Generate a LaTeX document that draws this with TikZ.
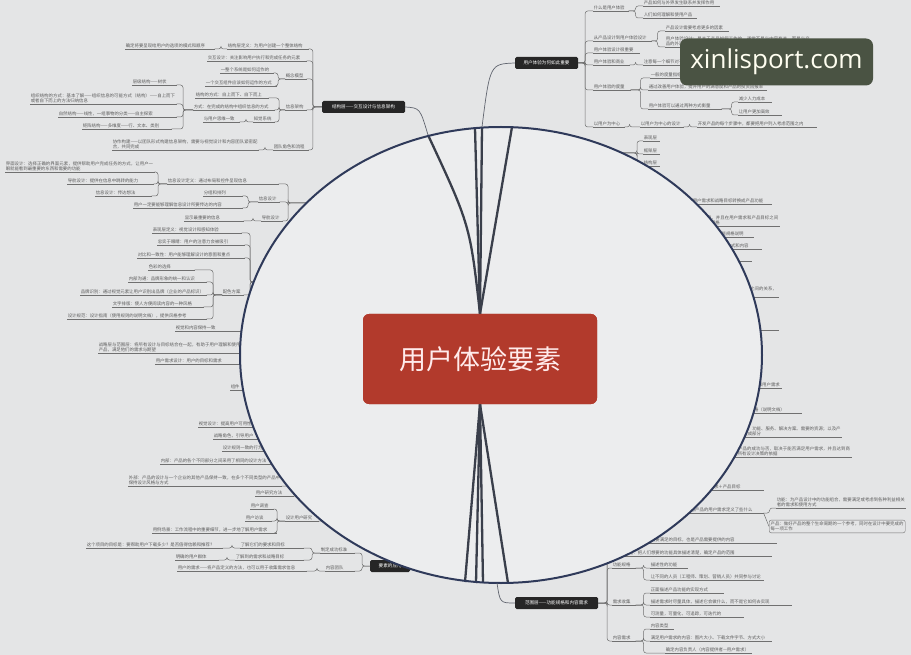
\documentclass[tikz,border=0pt]{standalone}
\usepackage{fontspec}
\setmainfont{Noto Sans CJK SC}
\newfontfamily\wmfont{Open Sans}
\XeTeXlinebreaklocale "zh"
\XeTeXlinebreakskip=0pt plus 1pt
\definecolor{bgout}{HTML}{E4E5E6}
\definecolor{bgin}{HTML}{ECEDEE}
\definecolor{txt}{HTML}{5C5C5C}
\definecolor{lin}{HTML}{707070}
\definecolor{ring}{HTML}{2F3A5A}
\definecolor{fan}{HTML}{3A3F4B}
\definecolor{corered}{HTML}{B23A2C}
\definecolor{wmgreen}{HTML}{4A5343}
\tikzset{
 tt/.style={font=\fontsize{4.4}{5.6}\selectfont, text=txt, inner sep=0.6pt, align=left},
 ul/.style={draw=lin, line width=0.5pt},
 conn/.style={draw=lin, line width=0.5pt, rounded corners=2.5pt},
 blk/.style={fill=black!85, text=white, font=\fontsize{4.6}{5.6}\selectfont, rounded corners=1.5pt, inner sep=1.5pt, minimum height=12pt},
 fanl/.style={draw=fan, line width=2.3pt},
 link/.style={draw=fan!80, line width=0.7pt},
}
\newcommand\tnd[5]{\node[tt,text width=#4pt,anchor=south west] (#1) at (#2,#3) {#5};\draw[ul] (#1.south west) -- (#1.south east);}
\newcommand\lcon[3]{\draw[conn] (#1.south east) -| ([xshift=-#3pt]#2) -- (#2);}
\newcommand\rcon[3]{\draw[conn] (#1) -- ([xshift=#3pt]#1) |- (#2.south west);}
\newcommand\hconr[2]{\draw[conn] (#1) |- (#2.south west);}
\newcommand\hconl[2]{\draw[conn] (#1) |- (#2.south east);}
\begin{document}
\begin{tikzpicture}[x=1pt,y=-1pt]
\useasboundingbox (0,0) rectangle (911,655);
\fill[bgout] (0,0) rectangle (911,655);

% ---------- structure layer (top left)
\node[blk,minimum width=83pt] (n1) at (363.5,107) {结构层——交互设计与信息架构};
\tnd{a1}{227}{49}{80}{结构层定义：为用户创建一个整体结构}
\tnd{a1a}{125}{49}{88}{确定将要呈现给用户的选项的模式和顺序}
\tnd{a2}{207}{61}{98}{交互设计：关注影响用户执行和完成任务的元素}
\tnd{a3}{285}{79}{20}{概念模型}
\tnd{a3a}{220}{73}{52}{一整个系统是如何运作的}
\tnd{a3b}{205}{86}{70}{一个交互组件应该如何运作的方式}
\tnd{a4}{285}{110}{20}{信息架构}
\tnd{a4a}{195}{98}{72}{结构的方式：自上而下、自下而上}
\tnd{a4b}{193}{110}{80}{方式：在完成的结构中组织信息的方式}
\tnd{a4c}{253}{122}{20}{知觉系统}
\tnd{a4d}{203}{122}{35}{与用户思维一致}
\tnd{b1}{132}{85}{43}{层级结构——树状}
\tnd{b2}{30}{104}{145}{组织结构的方式：基本了解——组织信息的可能方式（结构）——自上而下或者自下而上的方法归纳信息}
\tnd{b3}{58}{117}{117}{自然结构——线性，一组事物的分类——自主探索}
\tnd{b4}{82}{129}{88}{矩阵结构——多维度——行、文本、类别}
\tnd{a5}{273}{150}{34}{团队角色和流程}
\tnd{a5a}{112}{150}{145}{协作构建——以团队形式构建信息架构，需要与视觉设计和内容团队紧密配合，共同完成}
\lcon{a1}{n1.west}{9}
\lcon{a2}{n1.west}{9}
\lcon{a3}{n1.west}{9}
\lcon{a4}{n1.west}{9}
\lcon{a5}{n1.west}{9}
\lcon{a1a}{a1.south west}{6}
\lcon{a3a}{a3.south west}{7}
\lcon{a3b}{a3.south west}{7}
\lcon{a4a}{a4.south west}{6}
\lcon{a4b}{a4.south west}{6}
\lcon{a4c}{a4.south west}{6}
\lcon{a4d}{a4c.south west}{7}
\lcon{b1}{a4b.south west}{10}
\lcon{b2}{a4b.south west}{10}
\lcon{b3}{a4b.south west}{10}
\lcon{b4}{a4b.south west}{10}
\lcon{a5a}{a5.south west}{8}

% ---------- skeleton group
\coordinate (h2) at (335,203);
\tnd{c1}{167}{184}{110}{信息设计定义：通过布局和控件呈现信息}
\tnd{c1a}{5}{172}{148}{界面设计：选择正确的界面元素，提供帮助用户完成任务的方式，让用户一眼就能看到最重要的东西和需要的功能}
\tnd{c1b}{67}{184}{85}{导航设计：提供在信息中跳转的能力}
\tnd{c1c}{95}{196}{55}{信息设计：传达想法}
\tnd{c2}{258}{202}{20}{信息设计}
\tnd{c2a}{203}{196}{38}{分组和排列}
\tnd{c2b}{133}{208}{108}{用户一定要能够理解信息设计所要传达的内容}
\tnd{c3}{261}{221}{20}{导航设计}
\tnd{c3a}{184}{221}{58}{显示最重要的信息}
\lcon{c1a}{c1.south west}{9}
\lcon{c1b}{c1.south west}{9}
\lcon{c1c}{c1.south west}{9}
\lcon{c2a}{c2.south west}{10}
\lcon{c2b}{c2.south west}{10}
\lcon{c3a}{c3.south west}{8}
\lcon{c1}{h2}{47}
\lcon{c2}{h2}{47}
\lcon{c3}{h2}{47}

% ---------- surface group
\coordinate (h3) at (300,282);
\tnd{d1}{152}{233}{88}{表现层定义：视觉设计和感知体验}
\tnd{d2}{157}{245}{86}{忠实于眼睛：用户的注意力会被吸引}
\tnd{d3}{137}{258}{106}{对比和一致性：用户能够理解设计的意图和重点}
\tnd{d4}{222}{295}{20}{配色方案}
\tnd{d4a}{148}{270}{45}{色彩的选择}
\tnd{d4b}{128}{282}{77}{内部沟通：品牌形象的统一和认识}
\tnd{d4c}{80}{295}{125}{品牌识别：通过视觉元素让用户识别出品牌（企业的产品标识）}
\tnd{d4d}{112}{307}{90}{文字排版：使人方便阅读内容的一种风格}
\tnd{d4e}{67}{319}{138}{设计规范：设计指南（使用规则的说明文档），提供风格参考}
\tnd{d5}{175}{331}{65}{视觉和内容保持一致}
\lcon{d4a}{d4.south west}{9}
\lcon{d4b}{d4.south west}{9}
\lcon{d4c}{d4.south west}{9}
\lcon{d4d}{d4.south west}{9}
\lcon{d4e}{d4.south west}{9}
\lcon{d1}{h3}{50}
\lcon{d2}{h3}{50}
\lcon{d3}{h3}{50}
\lcon{d4}{h3}{50}
\lcon{d5}{h3}{50}

\coordinate (h4) at (300,365);
\tnd{e1}{98}{353}{142}{战略层与范围层：将所有设计与目标结合在一起，有助于用户理解和使用产品，满足他们的需求与期望}
\tnd{e2}{155}{364}{85}{用户需求设计：用户的目标和需求}
\tnd{e3}{230}{390}{20}{组件}
\lcon{e1}{h4}{50}
\lcon{e2}{h4}{50}
\lcon{e3}{h4}{50}

\coordinate (h5) at (340,455);
\tnd{f1}{198}{427}{55}{视觉设计：提高用户可用性}
\tnd{f2}{213}{439}{45}{战略角色，引导用户}
\tnd{f3}{222}{451}{45}{设计规则一致的行为}
\tnd{f4}{160}{464}{110}{内部：产品的各个不同部分之间采用了相同的设计方法}
\tnd{f5}{128}{486}{152}{外部：产品的设计与一个企业的其他产品保持一致，在多个不同类型的产品中保持设计风格与方式}
\lcon{f1}{h5}{40}
\lcon{f2}{h5}{40}
\lcon{f3}{h5}{40}
\lcon{f4}{h5}{40}
\lcon{f5}{h5}{40}

\coordinate (h6) at (345,510);
\tnd{g1}{255}{496}{37}{用户研究方法}
\tnd{g2}{250}{509}{22}{用户调查}
\tnd{g3}{245}{521}{25}{用户访谈}
\tnd{g4}{152}{533}{123}{用例场景：工作流程中的重要细节，进一步地了解用户需求}
\tnd{g0}{285}{521}{32}{设计用户研究}
\lcon{g2}{g0.south west}{8}
\lcon{g3}{g0.south west}{8}
\lcon{g4}{g0.south west}{8}
\lcon{g0}{h6}{15}
\lcon{g1}{h6}{15}

% ---------- bottom-left black node
\node[blk,minimum width=40pt,anchor=west] (n4) at (370,566) {要素的应用};
\tnd{k1}{320}{553}{33}{制定成功标准}
\tnd{k1a}{240}{548}{62}{了解它们的要求和目标}
\tnd{k1a1}{86}{548}{135}{这个项目的目标是：要帮助用户下载多少？是否值得信赖和推荐？}
\tnd{k1b}{235}{560}{67}{了解到的需求和战略目标}
\tnd{k1b1}{175}{560}{42}{明确的用户群体}
\tnd{k2}{325}{571}{28}{内容团队}
\tnd{k2a}{177}{571}{128}{用户的需求——将产品定义的方法，也可以用于收集需求信息}
\lcon{k1a}{k1.south west}{8}
\lcon{k1b}{k1.south west}{8}
\lcon{k1a1}{k1a.south west}{8}
\lcon{k1b1}{k1b.south west}{8}
\lcon{k2a}{k2.south west}{8}
\lcon{k1}{n4.west}{8}
\lcon{k2}{n4.west}{8}

% ---------- top black node
\node[blk,minimum width=63pt] (n2) at (546.5,63) {用户体验为何如此重要};
\tnd{m1}{593}{11}{34}{什么是用户体验}
\tnd{m1a}{643}{6}{75}{产品如何与外界发生联系并发挥作用}
\tnd{m1b}{643}{18}{52}{人们如何理解和使用产品}
\tnd{m2}{593}{41}{57}{从产品设计到用户体验设计}
\tnd{m2a}{665}{31}{62}{产品设计需要考虑更多的因素}
\tnd{m2b}{665}{47}{145}{用户体验设计：是关于产品如何工作的，通常不是与内容有关，而是与产品的外观和功能有关}
\tnd{m3}{593}{53}{45}{用户体验设计很重要}
\tnd{m4}{593}{65}{35}{用户体验和商业}
\tnd{m4a}{643}{65}{130}{注意每一个细节对于用户体验的影响，关系到用户是否会再次使用}
\tnd{m5}{593}{90}{36}{用户体验的度量}
\tnd{m5a}{650}{78}{100}{一般的度量指标：转化率、访问量、用户满意度}
\tnd{m5b}{648}{90}{117}{通过改善用户体验，提升用户的满意度和产品的投资回报率}
\tnd{m5c}{648}{109}{72}{用户体验可以通过两种方式衡量}
\tnd{m5d}{738}{102}{32}{减少人力成本}
\tnd{m5e}{738}{115}{42}{让用户更加高效}
\tnd{m6}{593}{127}{30}{以用户为中心}
\tnd{m6a}{640}{127}{42}{以用户为中心的设计}
\tnd{m6b}{697}{127}{118}{开发产品的每个步骤中，都要把用户列入考虑范围之内}
\rcon{n2.east}{m1}{7}
\rcon{n2.east}{m2}{7}
\rcon{n2.east}{m3}{7}
\rcon{n2.east}{m4}{7}
\rcon{n2.east}{m5}{7}
\rcon{n2.east}{m6}{7}
\rcon{m1.south east}{m1a}{7}
\rcon{m1.south east}{m1b}{7}
\rcon{m2.south east}{m2a}{6}
\rcon{m2.south east}{m2b}{6}
\rcon{m4.south east}{m4a}{6}
\rcon{m5.south east}{m5a}{10}
\rcon{m5.south east}{m5b}{10}
\rcon{m5.south east}{m5c}{10}
\rcon{m5c.south east}{m5d}{10}
\rcon{m5c.south east}{m5e}{10}
\rcon{m6.south east}{m6a}{5}
\rcon{m6a.south east}{m6b}{6}

% ---------- right side items
\coordinate (h7) at (600,153);
\tnd{r1}{643}{141}{15}{表现层}
\tnd{r2}{643}{154}{15}{框架层}
\tnd{r3}{643}{166}{15}{结构层}
\rcon{h7}{r1}{37}
\rcon{h7}{r2}{37}
\rcon{h7}{r3}{37}
\coordinate (h8) at (650,275);
\tnd{r4}{670}{204}{100}{将了解到的用户需求和战略目标转换成产品功能}
\tnd{r5}{675}{226}{103}{确定需求的优先级，并且在用户需求和产品目标之间找到平衡点，形成规格}
\tnd{r6}{690}{237}{62}{将需求转化为功能规格说明}
\tnd{r7}{695}{249}{65}{描述功能的实现方式和内容}
\tnd{r8}{700}{261}{50}{功能需求分析方法}
\tnd{r9}{700}{297}{77}{用户、功能、界面、需求之间的关系，确定项目范围}
\tnd{r10}{735}{330}{42}{战略层定义}
\hconr{h8}{r4}
\hconr{h8}{r5}
\hconr{h8}{r6}
\hconr{h8}{r7}
\hconr{h8}{r8}
\hconr{h8}{r9}
\hconr{h8}{r10}
\coordinate (h9) at (690,440);
\tnd{r12}{735}{388}{45}{产品的目标和用户需求}
\tnd{r13}{740}{413}{60}{功能规格（说明文档）}
\tnd{r14}{725}{437}{115}{用户：产品、功能、服务、解决方案、需要的资源；以及产品的各个组成部分}
\tnd{r15}{715}{457}{135}{战略目标：产品的成功与否，取决于能否满足用户需求，并且达到商业目标，是所有设计决策的依据}
\tnd{r16}{700}{490}{62}{用户需求＋产品目标}
\tnd{r17}{690}{513}{72}{为产品的用户需求定义了些什么}
\hconr{h9}{r12}
\hconr{h9}{r13}
\hconr{h9}{r14}
\hconr{h9}{r15}
\hconr{h9}{r16}
\hconr{h9}{r17}
\tnd{r17a}{776}{508}{128}{功能：为产品设计中的功能组合，需要满足或考虑到各种利益相关者的需求和使用方式}
\node[tt,draw=lin,rounded corners=2pt,inner sep=1.5pt,text width=133pt,anchor=south west] (r17b) at (769,533) {产品：做好产品的整个生命周期的一个参考，同时在设计中要完成的每一项工作};
\rcon{r17.south east}{r17a}{6}
\draw[conn] (r17.south east) -- (r17b.west);

% ---------- scope layer (bottom)
\node[blk,minimum width=83pt] (n3) at (556.5,603) {范围层——功能规格和内容需求};
\tnd{p0a}{615}{543}{160}{战略层定义了产品需要满足的目标，也是产品需要提供的内容}
\tnd{p0b}{615}{556}{155}{功能规格：把人们想要的功能具体描述清楚，确定产品的范围}
\tnd{p1}{612}{568}{22}{功能规格}
\tnd{p1a}{650}{568}{36}{描述性的功能}
\tnd{p1b}{650}{580}{112}{让不同的人员（工程师、策划、营销人员）共同参与讨论}
\tnd{p2}{612}{605}{22}{需求收集}
\tnd{p2a}{650}{593}{72}{正面描述产品功能的实现方式}
\tnd{p2b}{650}{605}{140}{描述需求时尽量具体，描述它会做什么，而不是它如何去实现}
\tnd{p2c}{650}{617}{92}{可测量，可量化，可追踪，可迭代的}
\tnd{p3}{612}{641}{22}{内容需求}
\tnd{p3a}{650}{629}{22}{内容类型}
\tnd{p3b}{650}{641}{120}{满足用户需求的内容：图片大小、下载文件字节、方式大小}
\tnd{p3c}{665}{653}{85}{确定内容负责人（内容提供者—用户需求）}
\rcon{n3.east}{p0a}{9}
\rcon{n3.east}{p0b}{9}
\rcon{n3.east}{p1}{9}
\rcon{n3.east}{p2}{9}
\rcon{n3.east}{p3}{9}
\rcon{p1.south east}{p1a}{8}
\rcon{p1.south east}{p1b}{8}
\rcon{p2.south east}{p2a}{8}
\rcon{p2.south east}{p2b}{8}
\rcon{p2.south east}{p2c}{8}
\rcon{p3.south east}{p3a}{8}
\rcon{p3.south east}{p3b}{8}
\rcon{p3.south east}{p3c}{8}

% ---------- magnifier ellipse
\fill[bgin] (501,355) ellipse [x radius=261pt, y radius=228pt];
\coordinate (et1) at (428,135);
\coordinate (et2) at (475,128);
\coordinate (et3) at (482,127);
\coordinate (et4) at (512,127);
\coordinate (eb1) at (465,582);
\coordinate (eb2) at (476,583);
\coordinate (eb3) at (483,583);
\coordinate (eb4) at (508,583);
\coordinate (eb5) at (497,583);
\node[fill=corered, rounded corners=6pt, minimum width=234pt, minimum height=90pt, inner sep=0pt] (core) at (480,359) {};
\draw[fanl] (core.north) .. controls (470,225) .. (et1);
\draw[fanl] (core.north) -- (et2);
\draw[fanl] (core.north) -- (et3);
\draw[fanl] (core.north) -- (et4);
\draw[fanl] (core.south) -- (eb1);
\draw[fanl] (core.south) -- (eb2);
\draw[fanl] (core.south) -- (eb3);
\draw[fanl] (core.south) -- (eb4);
\draw[ring, line width=2pt] (501,355) ellipse [x radius=261pt, y radius=228pt];
\draw[link] (n1.east) .. controls (420,108) .. (et1);
\draw[link] (n2.west) .. controls (490,64) .. (et3);
\draw[link] (n3.west) .. controls (500,603) .. (eb5);
\node[fill=corered, rounded corners=6pt, minimum width=234pt, minimum height=90pt, text=white!92!red, font=\fontsize{27}{30}\selectfont] (title) at (480,359) {用户体验要素};

% ---------- watermark
\node[fill=wmgreen, rounded corners=7pt, minimum width=193pt, minimum height=47pt, inner sep=0pt, text=white!94!yellow, font=\wmfont\fontsize{26}{30}\selectfont] (wm) at (776.5,62) {xinlisport.com};
\end{tikzpicture}
\end{document}
